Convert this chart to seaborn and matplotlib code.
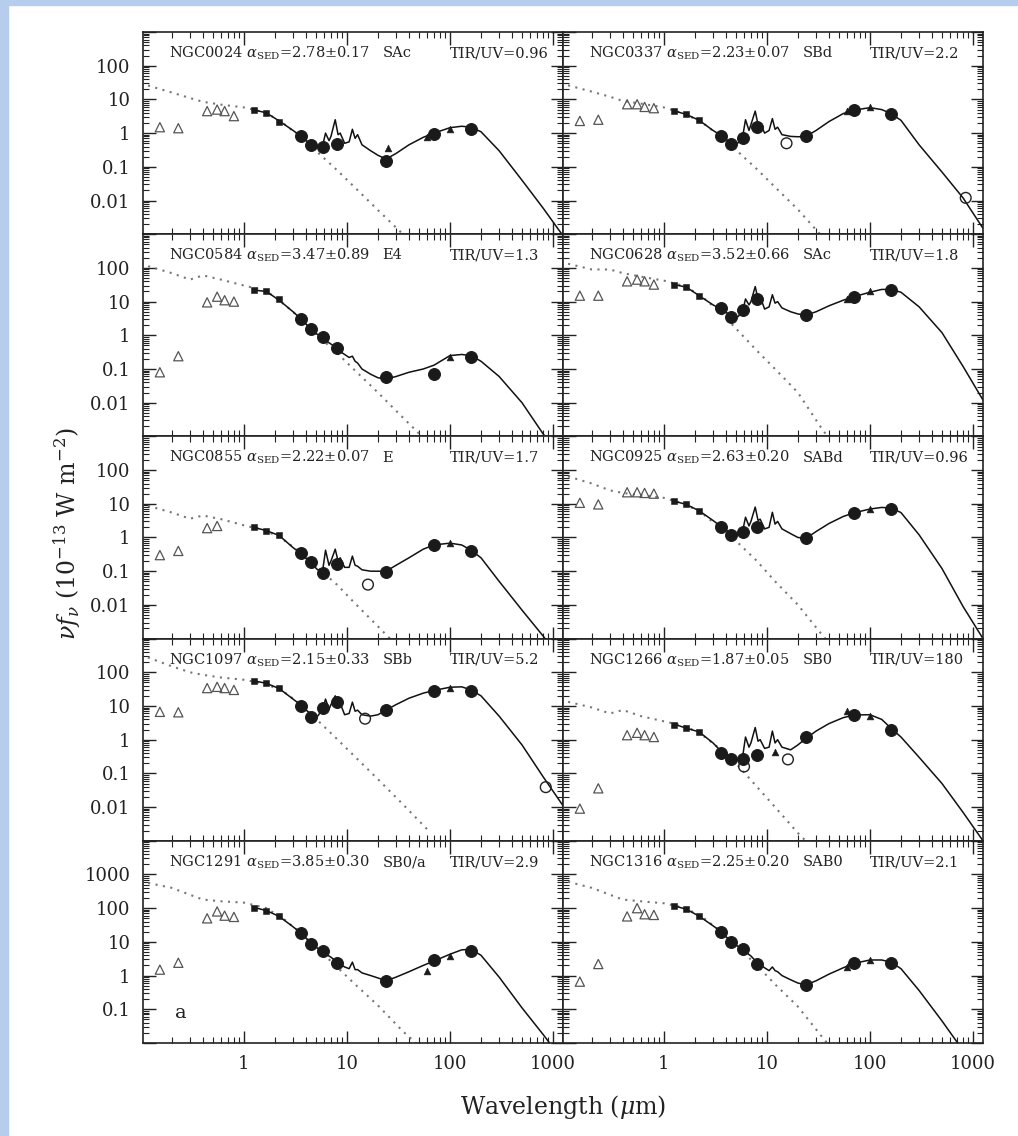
import numpy as np
import pandas as pd
import matplotlib.pyplot as plt
import seaborn as sns
from matplotlib.patches import Rectangle
from matplotlib.ticker import LogLocator

nan = np.nan

# --- wavelength grids (micron) ---
model_wl = [1.25, 1.65, 2.2, 3.0, 3.6, 4.5, 5.2, 5.8, 6.2, 6.7, 7.0, 7.7, 8.2, 8.6,
            9.5, 10.5, 11.3, 12.0, 12.7, 14, 17, 20, 24, 30, 40, 55, 70, 100, 130,
            160, 200, 300, 500, 800, 1250]
star_wl = [0.1, 0.2, 0.3, 0.4, 0.6, 1.0, 1.65, 2.5, 3.6, 5.0, 8.0, 12, 20, 35, 60]
phot_wl = [0.153, 0.231, 0.44, 0.55, 0.65, 0.80, 1.25, 1.65, 2.17,
           3.6, 4.5, 5.8, 8.0, 24, 70, 160]
phot_kind = ["uv"] * 2 + ["opt"] * 4 + ["nir"] * 3 + ["ir"] * 7
iras_wl = [12, 25, 60, 100]

# --- panel headers ---
names = ["NGC0024", "NGC0337", "NGC0584", "NGC0628", "NGC0855",
         "NGC0925", "NGC1097", "NGC1266", "NGC1291", "NGC1316"]
alphas = ["2.78±0.17", "2.23±0.07", "3.47±0.89", "3.52±0.66", "2.22±0.07",
          "2.63±0.20", "2.15±0.33", "1.87±0.05", "3.85±0.30", "2.25±0.20"]
morphs = ["SAc", "SBd", "E4", "SAc", "E", "SABd", "SBb", "SB0", "SB0/a", "SAB0"]
tir_uv = ["0.96", "2.2", "1.3", "1.8", "1.7", "0.96", "5.2", "180", "2.9", "2.1"]

# --- model SEDs (solid) ---
model_n0024 = [4.9, 4.0, 2.3, 1.2, 0.8, 0.45, 0.38, 0.42, 1.0, 0.6, 0.8, 2.5, 0.9, 1.0,
               0.5, 0.55, 1.3, 0.7, 0.9, 0.45, 0.3, 0.22, 0.17, 0.25, 0.45, 0.75, 1.0,
               1.45, 1.6, 1.5, 1.1, 0.3, 0.04, 0.006, 0.0009]
model_n0337 = [4.6, 3.6, 2.4, 1.2, 0.85, 0.5, 0.5, 0.75, 2.5, 1.2, 1.8, 4.5, 1.8, 2.0,
               1.0, 1.2, 2.7, 1.3, 1.5, 0.9, 0.8, 0.78, 0.8, 1.2, 2.2, 3.8, 4.8,
               5.7, 5.0, 3.8, 2.4, 0.45, 0.07, 0.012, 0.0015]
model_n0584 = [22, 20, 11, 5, 3.0, 1.5, 1.05, 0.85, 0.7, 0.6, 0.55, 0.45, 0.37, 0.33,
               0.27, 0.22, 0.24, 0.17, 0.15, 0.1, 0.07, 0.055, 0.05, 0.06, 0.08, 0.1, 0.13,
               0.25, 0.27, 0.25, 0.17, 0.06, 0.01, 0.0012, 0.0002]
model_n0628 = [32, 27, 15, 8, 6, 3.8, 3.5, 5, 12, 8, 10, 28, 12, 14,
               6, 7, 16, 9, 10, 6.5, 5, 4.3, 4, 5, 7.5, 11, 14,
               19, 23, 23, 19, 7, 1.2, 0.12, 0.012]
model_n0855 = [2.0, 1.6, 1.15, 0.5, 0.33, 0.17, 0.11, 0.1, 0.42, 0.15, 0.2, 0.45, 0.2, 0.25,
               0.13, 0.13, 0.28, 0.15, 0.14, 0.11, 0.1, 0.1, 0.1, 0.15, 0.25, 0.45, 0.6,
               0.68, 0.6, 0.42, 0.25, 0.05, 0.007, 0.0012, 0.0002]
model_n0925 = [12, 9.6, 6.2, 3.2, 2.1, 1.3, 1.2, 1.5, 4, 2.2, 3, 8, 3.2, 3.5,
               1.8, 2, 5.6, 2.5, 3, 1.8, 1.3, 1.0, 0.95, 1.5, 2.6, 4.2, 5.4,
               7, 7.8, 7.5, 5.5, 1.2, 0.12, 0.009, 0.001]
model_n1097 = [56, 47, 33, 16, 10.5, 5.5, 5.0, 8, 16, 8, 11, 20, 10, 12,
               5.5, 6, 13, 7, 7.5, 5.5, 5, 5.5, 7.6, 11, 17, 24, 29,
               36, 37, 30, 20, 5, 0.7, 0.08, 0.011]
model_n1266 = [2.9, 2.2, 1.7, 0.8, 0.45, 0.3, 0.27, 0.3, 1.2, 0.6, 0.8, 2.3, 0.9, 1.0,
               0.55, 0.6, 1.8, 0.8, 1.0, 0.6, 0.5, 0.7, 1.1, 1.8, 3, 4.5, 5.4,
               5.5, 4, 2.2, 1.2, 0.3, 0.05, 0.007, 0.001]
model_n1291 = [105, 85, 57, 28, 18, 9, 6.5, 5.2, 4.5, 3.8, 3.5, 2.8, 2.4, 2.2,
               1.8, 1.6, 2.5, 1.5, 1.5, 1.2, 1.0, 0.85, 0.7, 0.9, 1.3, 2.0, 2.7,
               4.3, 5.8, 6, 4, 0.9, 0.11, 0.018, 0.003]
model_n1316 = [118, 93, 58, 30, 20, 10, 7.5, 6, 5, 4.2, 3.8, 2.8, 2.3, 2.1,
               1.7, 1.4, 1.8, 1.4, 1.3, 1.0, 0.75, 0.6, 0.53, 0.7, 1.1, 1.7, 2.3,
               2.9, 2.9, 2.5, 1.6, 0.36, 0.045, 0.006, 0.001]

# --- stellar component (dotted) ---
star_n0024 = [30, 16, 11, 8.5, 7, 5.8, 4.0, 1.8, 0.75, 0.3, 0.08, 0.024, 0.0052, 0.001, 0.0002]
star_n0337 = [30, 17, 12, 9, 7.5, 5.8, 3.6, 1.8, 0.75, 0.32, 0.085, 0.025, 0.0054, 0.0008, 0.00015]
star_n0584 = [130, 70, 45, 60, 45, 30, 21, 8, 3.0, 1.1, 0.3, 0.09, 0.02, 0.0036, 0.0007]
star_n0628 = [150, 90, 90, 70, 55, 42, 28, 12, 4.5, 1.6, 0.35, 0.1, 0.02, 0.0015, 0.0002]
star_n0855 = [10, 5.5, 3.6, 4.5, 3.5, 2.3, 1.6, 0.8, 0.35, 0.14, 0.04, 0.011, 0.0023, 0.0004, 0.0001]
star_n0925 = [75, 40, 25, 21, 18, 15, 9.6, 4.5, 1.8, 0.8, 0.2, 0.05, 0.01, 0.0012, 0.0002]
star_n1097 = [330, 150, 100, 84, 70, 60, 45, 25, 11, 4.2, 1.05, 0.31, 0.067, 0.012, 0.0022]
star_n1266 = [15, 9, 6, 7.6, 5, 3.5, 2.5, 1.2, 0.5, 0.2, 0.04, 0.01, 0.0017, 0.0003, 0.00005]
star_n1291 = [620, 400, 250, 180, 160, 146, 100, 45, 18, 7, 1.8, 0.55, 0.13, 0.022, 0.005]
star_n1316 = [690, 400, 250, 180, 160, 140, 100, 48, 20, 8, 2.0, 0.55, 0.12, 0.014, 0.002]

# --- photometry: UV(2), optical(4), NIR(3), IRAC(4), MIPS(3) ---
phot_n0024 = [1.5, 1.4, 4.5, 5.0, 4.5, 3.2, 4.9, 4.0, 2.2, 0.81, 0.43, 0.39, 0.46, 0.145, 0.95, 1.36]
phot_n0337 = [2.3, 2.5, 7.2, 7.2, 6.0, 5.5, 4.6, 3.6, 2.4, 0.8, 0.46, 0.72, 1.5, 0.8, 4.7, 3.7]
phot_n0584 = [0.08, 0.24, 9.5, 14, 11, 10, 21.7, 20.7, 11.7, 3.0, 1.5, 0.9, 0.43, 0.059, 0.072, 0.22]
phot_n0628 = [15, 15, 40, 45, 40, 32, 32, 27, 15, 6.5, 3.5, 5.5, 12, 4, 14, 22]
phot_n0855 = [0.3, 0.4, 1.9, 2.2, nan, nan, 2.1, 1.6, 1.15, 0.35, 0.19, 0.088, 0.16, 0.094, 0.61, 0.39]
phot_n0925 = [10.7, 9.6, 22, 22, 21, 20, 12, 9.6, 6, 2.0, 1.2, 1.5, 2.1, 0.96, 5.4, 7.1]
phot_n1097 = [6.7, 6.5, 34, 37, 34, 30, 56, 47, 34, 10, 4.8, 9, 13, 7.6, 27, 28]
phot_n1266 = [0.009, 0.036, 1.36, 1.6, 1.36, 1.2, 2.8, 2.15, 1.7, 0.41, 0.27, 0.26, 0.36, 1.2, 5.4, 1.9]
phot_n1291 = [1.5, 2.4, 50, 80, 60, 55, 100, 85, 57, 18, 8.5, 5.3, 2.4, 0.69, 2.8, 5.3]
phot_n1316 = [0.66, 2.2, 57, 100, 66, 63, 118, 93, 58, 20, 10, 6.0, 2.2, 0.53, 2.4, 2.4]

# --- IRAS 12/25/60/100 ---
iras_n0024 = [nan, 0.36, 0.76, 1.3]
iras_n0337 = [nan, nan, 4.6, 6.0]
iras_n0584 = [nan, nan, nan, 0.23]
iras_n0628 = [nan, nan, 12, 20]
iras_n0855 = [nan, nan, nan, 0.68]
iras_n0925 = [nan, nan, nan, 6.8]
iras_n1097 = [nan, nan, nan, 35]
iras_n1266 = [0.42, nan, 7.0, 5.0]
iras_n1291 = [nan, nan, 1.4, 3.9]
iras_n1316 = [nan, nan, 1.8, 2.9]

# --- open circles (other data) ---
open_wl_n0337, open_n0337 = [15.5, 850], [0.5, 0.012]
open_wl_n0855, open_n0855 = [16], [0.04]
open_wl_n1097, open_n1097 = [15, 850], [4.2, 0.039]
open_wl_n1266, open_n1266 = [6.0, 16], [0.16, 0.26]

models = [model_n0024, model_n0337, model_n0584, model_n0628, model_n0855,
          model_n0925, model_n1097, model_n1266, model_n1291, model_n1316]
stars = [star_n0024, star_n0337, star_n0584, star_n0628, star_n0855,
         star_n0925, star_n1097, star_n1266, star_n1291, star_n1316]
phots = [phot_n0024, phot_n0337, phot_n0584, phot_n0628, phot_n0855,
         phot_n0925, phot_n1097, phot_n1266, phot_n1291, phot_n1316]
irases = [iras_n0024, iras_n0337, iras_n0584, iras_n0628, iras_n0855,
          iras_n0925, iras_n1097, iras_n1266, iras_n1291, iras_n1316]
opens = {1: (open_wl_n0337, open_n0337), 4: (open_wl_n0855, open_n0855),
         6: (open_wl_n1097, open_n1097), 7: (open_wl_n1266, open_n1266)}

# tick labels
ytick_vals_a = [1e-3, 1e-2, 0.1, 1, 10, 100, 1000]
ytick_labs_a = ["", "0.01", "0.1", "1", "10", "100", ""]
ytick_vals_b = [1e-2, 0.1, 1, 10, 100, 1000, 1e4]
ytick_labs_b = ["", "0.1", "1", "10", "100", "1000", ""]
xtick_vals = [1, 10, 100, 1000]
xtick_labs = ["1", "10", "100", "1000"]

sns.set_theme(style="ticks")
plt.rcParams["font.family"] = ["DejaVu Serif"]
plt.rcParams["mathtext.fontset"] = "dejavuserif"

fig, axes = plt.subplots(5, 2, figsize=(10.18, 11.36), dpi=100)
fig.subplots_adjust(left=0.1405, right=0.9656, top=0.9718, bottom=0.0819,
                    wspace=0, hspace=0)

marker_kw = {
    "uv": dict(marker="^", s=44, facecolor="none", edgecolor="#555", linewidth=0.9),
    "opt": dict(marker="^", s=44, facecolor="none", edgecolor="#555", linewidth=0.9),
    "nir": dict(marker="s", s=24, color="k", edgecolor="k"),
    "ir": dict(marker="o", s=74, color="k", edgecolor="k"),
}

for i, ax in enumerate(axes.flat):
    row, col = divmod(i, 2)
    ax.set_xscale("log")
    ax.set_yscale("log")

    # stellar + total model
    sns.lineplot(x=star_wl, y=stars[i], ax=ax, color="#777", linestyle=(0, (1, 2.6)),
                 linewidth=1.5, estimator=None, sort=False)
    sns.lineplot(x=model_wl, y=models[i], ax=ax, color="#111", linewidth=1.1,
                 estimator=None, sort=False)

    df = pd.DataFrame({"wl": phot_wl, "flux": phots[i], "kind": phot_kind})
    for kind, kw in marker_kw.items():
        sub = df[df["kind"] == kind]
        sns.scatterplot(data=sub, x="wl", y="flux", ax=ax, legend=False, zorder=3, **kw)
    sns.scatterplot(x=iras_wl, y=irases[i], ax=ax, marker="^", s=24, color="k",
                    edgecolor="k", legend=False, zorder=3)
    if i in opens:
        sns.scatterplot(x=opens[i][0], y=opens[i][1], ax=ax, marker="o", s=60,
                        facecolor="none", edgecolor="#222", linewidth=1.0,
                        legend=False, zorder=3)

    ax.set_xlim(0.105, 1250)
    if row == 4:
        ax.set_ylim(1e-2, 1e4)
        ax.set_yticks(ytick_vals_b, ytick_labs_b if col == 0 else [""] * 7)
    else:
        ax.set_ylim(1e-3, 1e3)
        ax.set_yticks(ytick_vals_a, ytick_labs_a if col == 0 else [""] * 7)
    ax.set_xticks(xtick_vals, xtick_labs if row == 4 else [""] * 4)
    ax.xaxis.set_minor_locator(LogLocator(10, subs=np.arange(2, 10), numticks=30))
    ax.yaxis.set_minor_locator(LogLocator(10, subs=np.arange(2, 10), numticks=30))
    ax.tick_params(which="both", direction="in", top=True, right=True, colors="#222")
    ax.tick_params(which="major", length=9, width=1.0, labelsize=13, pad=9)
    ax.tick_params(which="minor", length=4.5, width=0.8)
    for sp in ax.spines.values():
        sp.set_linewidth(1.2)
        sp.set_color("#222")
    ax.set_xlabel("")
    ax.set_ylabel("")

    ax.text(0.063, 0.895, names[i] + r" $\alpha_{\mathrm{SED}}$=" + alphas[i],
            transform=ax.transAxes, fontsize=10.5, va="center", color="#222")
    ax.text(0.57, 0.895, morphs[i], transform=ax.transAxes, fontsize=10.5,
            va="center", color="#222")
    ax.text(0.73, 0.895, "TIR/UV=" + tir_uv[i], transform=ax.transAxes,
            fontsize=10.5, va="center", color="#222")

axes[4, 0].text(0.075, 0.15, "a", transform=axes[4, 0].transAxes, fontsize=14,
                va="center", color="#222")

fig.text(0.066, 0.53, r"$\nu f_\nu$ (10$^{-13}$ W m$^{-2}$)", rotation=90,
         fontsize=17, ha="center", va="center", color="#222")
fig.text(0.553, 0.0255, r"Wavelength ($\mu$m)", fontsize=17, ha="center",
         va="center", color="#222")

# light blue frame strips of the source page
fig.patches.append(Rectangle((0, 0), 8 / 1018, 1, transform=fig.transFigure,
                             color="#b7cdee", zorder=0))
fig.patches.append(Rectangle((0, 1 - 5 / 1136), 1, 5 / 1136, transform=fig.transFigure,
                             color="#b7cdee", zorder=0))

fig.savefig("out.png", dpi=100)
